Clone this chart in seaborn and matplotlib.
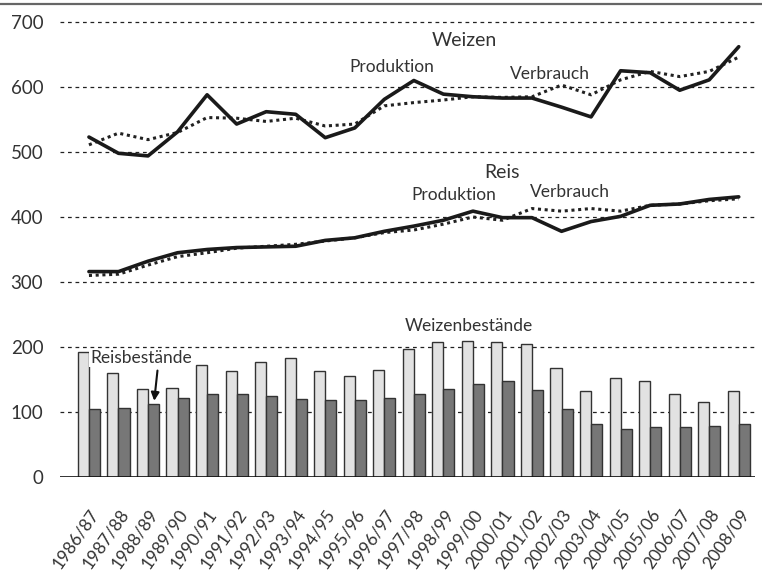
import numpy as np
import pandas as pd
import seaborn as sns
import matplotlib.pyplot as plt
from matplotlib.lines import Line2D

seasons = [
    "1986/87", "1987/88", "1988/89", "1989/90", "1990/91", "1991/92",
    "1992/93", "1993/94", "1994/95", "1995/96", "1996/97", "1997/98",
    "1998/99", "1999/00", "2000/01", "2001/02", "2002/03", "2003/04",
    "2004/05", "2005/06", "2006/07", "2007/08", "2008/09",
]

weizen_produktion = [523, 498, 494, 531, 588, 543, 562, 558, 522, 537, 581, 610,
                     589, 585, 583, 583, 569, 554, 625, 622, 595, 611, 662]
weizen_verbrauch = [511, 529, 519, 530, 553, 552, 547, 552, 540, 543, 571, 576,
                    580, 585, 584, 585, 603, 588, 611, 624, 616, 624, 646]
reis_produktion = [316, 316, 332, 345, 350, 353, 354, 355, 364, 368, 378, 386,
                   395, 409, 399, 399, 378, 393, 401, 418, 420, 427, 431]
reis_verbrauch = [310, 312, 326, 339, 345, 352, 355, 358, 363, 368, 376, 380,
                  389, 400, 395, 413, 409, 413, 409, 418, 420, 425, 428]

weizen_bestaende = [192, 160, 135, 137, 172, 163, 177, 183, 163, 156, 164, 197,
                    208, 210, 208, 204, 167, 133, 152, 148, 127, 116, 133]
reis_bestaende = [104, 106, 112, 121, 127, 127, 124, 120, 118, 119, 121, 128,
                  135, 143, 147, 134, 104, 81, 74, 77, 77, 78, 82]

y_ticks = [0, 100, 200, 300, 400, 500, 600, 700]

sns.set_style("white")
plt.rcParams['font.family'] = ['Lato', 'DejaVu Sans']
TEXT = "#333333"

stocks = pd.DataFrame({
    "season": seasons * 2,
    "value": weizen_bestaende + reis_bestaende,
    "crop": ["Weizen"] * len(seasons) + ["Reis"] * len(seasons),
})
idx = np.arange(len(seasons))

fig = plt.figure(figsize=(7.62, 5.74), dpi=100)
ax = fig.add_axes([60 / 762, 97 / 574, 695 / 762, 468 / 574])

sns.barplot(data=stocks, x="season", y="value", hue="crop",
            palette={"Weizen": "#e2e2e2", "Reis": "#777777"},
            width=0.75, edgecolor="#333333", linewidth=1.0,
            legend=False, ax=ax, zorder=3)

# consumption dotted, production solid
sns.lineplot(x=idx, y=weizen_verbrauch, color="#222222", lw=2.2,
             linestyle=(0, (1, 1.2)), ax=ax, zorder=4)
sns.lineplot(x=idx, y=weizen_produktion, color="#1a1a1a", lw=2.6, ax=ax, zorder=5)
sns.lineplot(x=idx, y=reis_verbrauch, color="#222222", lw=2.2,
             linestyle=(0, (1, 1.2)), ax=ax, zorder=4)
sns.lineplot(x=idx, y=reis_produktion, color="#1a1a1a", lw=2.6, ax=ax, zorder=5)

ax.set_xlim(-0.98, 22.55)
ax.set_ylim(0, 720)
ax.set_yticks(y_ticks)
ax.set_yticklabels([str(t) for t in y_ticks], fontsize=13.5, color=TEXT)
for t in y_ticks[1:]:
    ax.axhline(t, color="#222222", lw=0.9, linestyle=(0, (3, 3)), zorder=1)
ax.axhline(0, color="#111111", lw=1.2, zorder=6)

ax.tick_params(axis="y", direction="in", length=13, width=1.6, color="#888888", pad=12)
ax.tick_params(axis="x", direction="out", length=15, width=1.0, color="#222222", pad=6)
ax.set_xticks(idx)
ax.set_xticklabels(seasons, rotation=55, ha="right", va="top",
                   rotation_mode="anchor", fontsize=12.5, color=TEXT)
for lbl in ax.get_xticklabels():
    lbl.set_x(lbl.get_position()[0])

for s in ["left", "right", "top", "bottom"]:
    ax.spines[s].set_visible(False)
ax.set_xlabel("")
ax.set_ylabel("")
ax.grid(False)

ax.text(12.72, 671, "Weizen", fontsize=14, color=TEXT, ha="center", va="center")
ax.text(10.25, 631, "Produktion", fontsize=12.5, color=TEXT, ha="center", va="center")
ax.text(15.6, 620, "Verbrauch", fontsize=12.5, color=TEXT, ha="center", va="center")
ax.text(14.0, 468, "Reis", fontsize=14, color=TEXT, ha="center", va="center")
ax.text(12.35, 434, "Produktion", fontsize=12.5, color=TEXT, ha="center", va="center")
ax.text(16.28, 438, "Verbrauch", fontsize=12.5, color=TEXT, ha="center", va="center")
ax.text(12.86, 232, "Weizenbestände", fontsize=12.5, color=TEXT, ha="center", va="center")
ax.text(1.76, 183, "Reisbestände", fontsize=12.5, color=TEXT, ha="center", va="center",
        bbox=dict(facecolor="white", edgecolor="none", pad=0.5), zorder=7)
ax.annotate("", xy=(2.2, 113), xytext=(2.33, 168),
            arrowprops=dict(arrowstyle="-|>", color="#111111", lw=1.5,
                            mutation_scale=12), zorder=8)

fig.add_artist(Line2D([0, 1], [1 - 4 / 574, 1 - 4 / 574], transform=fig.transFigure,
                      color="#666666", lw=1.6))

fig.savefig("out.png", dpi=100)
